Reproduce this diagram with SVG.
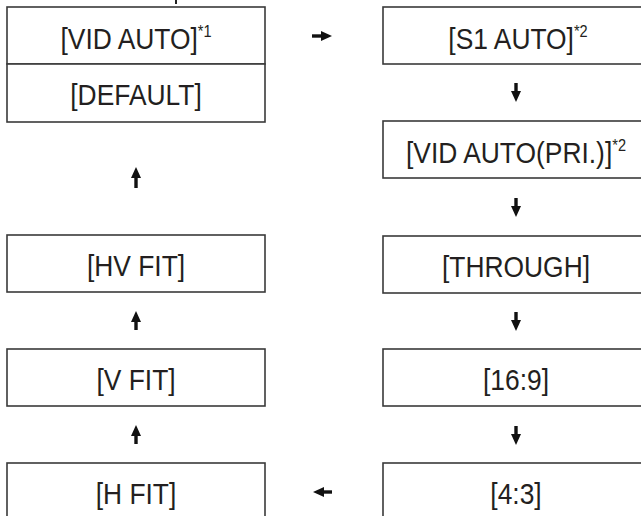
<svg xmlns="http://www.w3.org/2000/svg" width="641" height="516" viewBox="0 0 641 516">
<style>
.box{fill:#fff;stroke:#3a3a3a;stroke-width:1.6}
.lbl{font-family:"Liberation Sans",Arial,sans-serif;font-size:29px;fill:#231f20;text-anchor:middle}
.sup{font-size:16px}
.arr{stroke:#111;stroke-width:3.4;fill:none;marker-end:url(#ah)}
</style>
<defs>
<marker id="ah" markerUnits="userSpaceOnUse" markerWidth="12" markerHeight="12" viewBox="0 0 12 12" refX="4" refY="6" orient="auto">
<path d="M0,1 L11,6 L0,11 z" fill="#111"/>
</marker>
</defs>
<rect width="641" height="516" fill="#fff"/>
<line x1="176" y1="0" x2="176" y2="4" stroke="#222" stroke-width="2"/>
<g id="n-vidauto"><rect class="box" x="7" y="7" width="258" height="57"/><text class="lbl" transform="translate(136,49) scale(0.91,1)">[VID AUTO]<tspan class="sup" dy="-12">*1</tspan></text></g>
<g id="n-default"><rect class="box" x="7" y="64" width="258" height="58"/><text class="lbl" transform="translate(136,105) scale(0.91,1)">[DEFAULT]</text></g>
<g id="n-hvfit"><rect class="box" x="7" y="235" width="258" height="57"/><text class="lbl" transform="translate(136,276) scale(0.91,1)">[HV FIT]</text></g>
<g id="n-vfit"><rect class="box" x="7" y="349" width="258" height="57"/><text class="lbl" transform="translate(136,390) scale(0.91,1)">[V FIT]</text></g>
<g id="n-hfit"><rect class="box" x="7" y="463" width="258" height="70"/><text class="lbl" transform="translate(136,504) scale(0.91,1)">[H FIT]</text></g>
<g id="n-s1auto"><rect class="box" x="383" y="7" width="280" height="57"/><text class="lbl" transform="translate(518,49) scale(0.91,1)">[S1 AUTO]<tspan class="sup" dy="-12">*2</tspan></text></g>
<g id="n-vidautopri"><rect class="box" x="383" y="121" width="280" height="57"/><text class="lbl" transform="translate(516,163) scale(0.91,1)">[VID AUTO(PRI.)]<tspan class="sup" dy="-12">*2</tspan></text></g>
<g id="n-through"><rect class="box" x="383" y="236" width="280" height="57"/><text class="lbl" transform="translate(516,277) scale(0.91,1)">[THROUGH]</text></g>
<g id="n-169"><rect class="box" x="383" y="349" width="280" height="57"/><text class="lbl" transform="translate(516,390) scale(0.91,1)">[16:9]</text></g>
<g id="n-43"><rect class="box" x="383" y="463" width="280" height="70"/><text class="lbl" transform="translate(516,504) scale(0.91,1)">[4:3]</text></g>
<g id="connectors">
<line class="arr" x1="312" y1="36" x2="325" y2="36"/>
<line class="arr" x1="516" y1="83" x2="516" y2="95"/>
<line class="arr" x1="516" y1="198" x2="516" y2="210"/>
<line class="arr" x1="516" y1="312" x2="516" y2="324"/>
<line class="arr" x1="516" y1="426" x2="516" y2="438"/>
<line class="arr" x1="332" y1="492" x2="320" y2="492"/>
<line class="arr" x1="136" y1="444" x2="136" y2="432"/>
<line class="arr" x1="136" y1="330" x2="136" y2="318"/>
<line class="arr" x1="136" y1="188" x2="136" y2="174"/>
</g>
</svg>
